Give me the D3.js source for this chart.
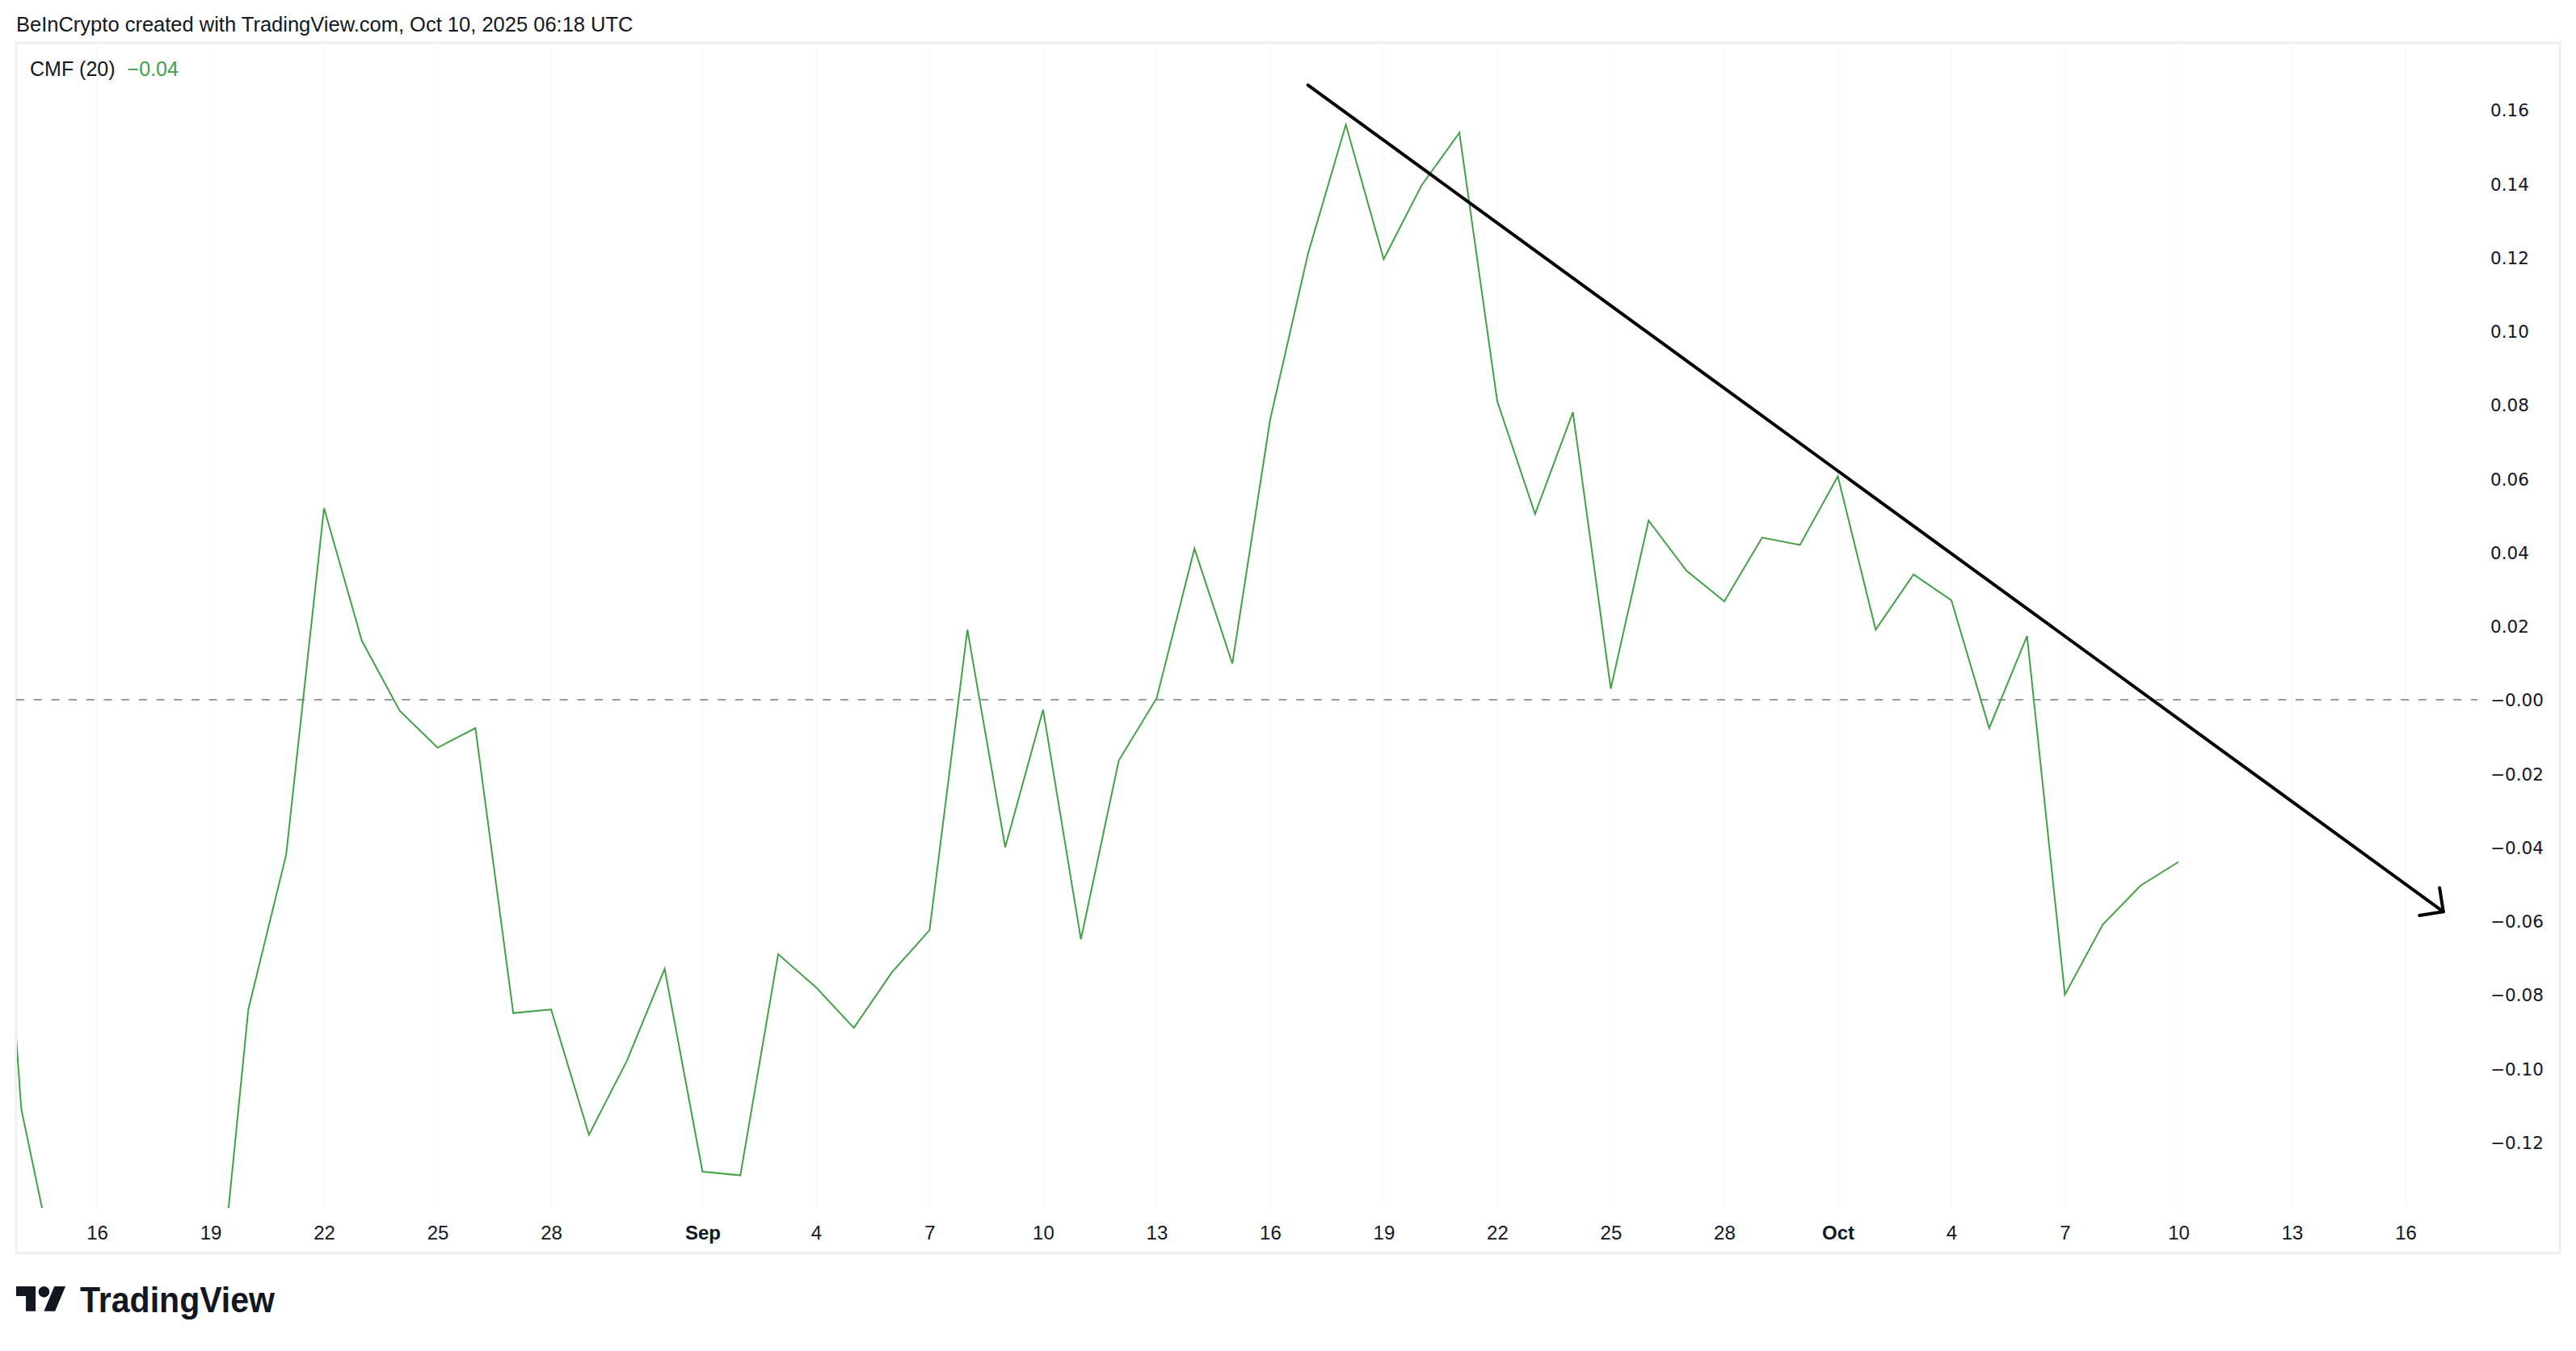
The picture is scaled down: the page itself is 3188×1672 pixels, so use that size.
<!DOCTYPE html>
<html>
<head>
<meta charset="utf-8">
<script src="https://cdn.jsdelivr.net/npm/d3@7"></script>
<style>
  html, body { margin: 0; padding: 0; background: #ffffff; }
  svg { display: block; }
</style>
</head>
<body>
<svg id="chart" width="3188" height="1672"></svg>
<script>
// ---------------- DATA ----------------
const dates = [
  "2025-08-13","2025-08-14","2025-08-15","2025-08-16","2025-08-17","2025-08-18","2025-08-19","2025-08-20",
  "2025-08-21","2025-08-22","2025-08-23","2025-08-24","2025-08-25","2025-08-26","2025-08-27","2025-08-28",
  "2025-08-29","2025-08-30","2025-08-31","2025-09-01","2025-09-02","2025-09-03","2025-09-04","2025-09-05",
  "2025-09-06","2025-09-07","2025-09-08","2025-09-09","2025-09-10","2025-09-11","2025-09-12","2025-09-13",
  "2025-09-14","2025-09-15","2025-09-16","2025-09-17","2025-09-18","2025-09-19","2025-09-20","2025-09-21",
  "2025-09-22","2025-09-23","2025-09-24","2025-09-25","2025-09-26","2025-09-27","2025-09-28","2025-09-29",
  "2025-09-30","2025-10-01","2025-10-02","2025-10-03","2025-10-04","2025-10-05","2025-10-06","2025-10-07",
  "2025-10-08","2025-10-09","2025-10-10"
];
const cmfValues = [
   0.033, -0.111, -0.160, -0.172, -0.181, -0.190, -0.187, -0.084,
  -0.042,  0.052,  0.016, -0.003, -0.013, -0.0077, -0.085, -0.084,
  -0.118, -0.098, -0.073, -0.128, -0.129, -0.069, -0.078, -0.089,
  -0.074, -0.0625, 0.019, -0.040, -0.0027, -0.065, -0.0165, 0.0004,
   0.041,  0.0098, 0.076,  0.121,  0.156,  0.1195, 0.1395, 0.1538,
   0.081,  0.0504, 0.078,  0.003,  0.0486, 0.035,  0.0267, 0.044,
   0.042,  0.0606, 0.019,  0.034,  0.027, -0.0077, 0.0173, -0.080,
  -0.061, -0.0504, -0.044
];
const yTickValues = [0.16, 0.14, 0.12, 0.10, 0.08, 0.06, 0.04, 0.02, 0.00, -0.02, -0.04, -0.06, -0.08, -0.10, -0.12];
const xTickDates = ["2025-08-16","2025-08-19","2025-08-22","2025-08-25","2025-08-28","2025-09-01","2025-09-04",
  "2025-09-07","2025-09-10","2025-09-13","2025-09-16","2025-09-19","2025-09-22","2025-09-25","2025-09-28",
  "2025-10-01","2025-10-04","2025-10-07","2025-10-10","2025-10-13","2025-10-16"];
const xTickLabels = ["16","19","22","25","28","Sep","4","7","10","13","16","19","22","25","28","Oct","4","7","10","13","16"];
const trendDates = ["2025-09-17", "2025-10-17"];
const trendValues = [0.1667, -0.0575];
const headerText = "BeInCrypto created with TradingView.com, Oct 10, 2025 06:18 UTC";
const legendName = "CMF (20)";
const legendValue = "\u22120.04";

// ---------------- LAYOUT ----------------
const frame = { left: 20, top: 53, right: 3168, bottom: 1551 };
const plot = { left: 20, top: 53, right: 3068, bottom: 1495 };
const parse = d3.utcParse("%Y-%m-%d");

const x = d3.scaleUtc()
  .domain([parse("2025-08-16"), parse("2025-10-16")])
  .range([120, 2977]);
const y = d3.scaleLinear()
  .domain([-0.12, 0.16])
  .range([1413.5, 136]);

const svg = d3.select("#chart");

// header
svg.append("text")
  .attr("x", 20).attr("y", 39)
  .attr("font-family", "Liberation Sans, Arial, sans-serif")
  .attr("font-size", 25.5).attr("fill", "#131722")
  .text(headerText);

// frame
svg.append("rect")
  .attr("x", frame.left).attr("y", frame.top)
  .attr("width", frame.right - frame.left).attr("height", frame.bottom - frame.top)
  .attr("fill", "none").attr("stroke", "#efefef").attr("stroke-width", 3);

// faint vertical grid lines
svg.append("g").selectAll("line")
  .data(xTickDates.map(parse))
  .join("line")
  .attr("x1", d => x(d)).attr("x2", d => x(d))
  .attr("y1", plot.top + 2).attr("y2", plot.bottom)
  .attr("stroke", "#f8f8fa").attr("stroke-width", 1.5);

// clip
svg.append("defs").append("clipPath").attr("id", "plotClip")
  .append("rect")
  .attr("x", plot.left + 1).attr("y", plot.top + 1)
  .attr("width", plot.right - plot.left).attr("height", plot.bottom - plot.top - 1);

// zero dashed line
svg.append("line")
  .attr("x1", plot.left).attr("x2", 3066)
  .attr("y1", y(0)).attr("y2", y(0))
  .attr("stroke", "#787b86").attr("stroke-width", 1.6)
  .attr("stroke-dasharray", "10,11.7");

// CMF line
const series = dates.map((d, i) => ({ date: parse(d), value: cmfValues[i] }));
svg.append("path")
  .datum(series)
  .attr("clip-path", "url(#plotClip)")
  .attr("fill", "none")
  .attr("stroke", "#43a047")
  .attr("stroke-width", 2)
  .attr("stroke-linejoin", "miter")
  .attr("d", d3.line().x(d => x(d.date)).y(d => y(d.value)));

// trend arrow
const p0 = [x(parse(trendDates[0])), y(trendValues[0])];
const p1 = [x(parse(trendDates[1])), y(trendValues[1])];
const ang = Math.atan2(p0[1] - p1[1], p0[0] - p1[0]);
const armLen = 30, spread = Math.PI / 4;
const a1 = [p1[0] + armLen * Math.cos(ang + spread), p1[1] + armLen * Math.sin(ang + spread)];
const a2 = [p1[0] + armLen * Math.cos(ang - spread), p1[1] + armLen * Math.sin(ang - spread)];
const tg = svg.append("g")
  .attr("fill", "none").attr("stroke", "#000000")
  .attr("stroke-width", 4).attr("stroke-linecap", "round").attr("stroke-linejoin", "round");
tg.append("line").attr("x1", p0[0]).attr("y1", p0[1]).attr("x2", p1[0]).attr("y2", p1[1]);
tg.append("path").attr("d", `M${a1[0]},${a1[1]}L${p1[0]},${p1[1]}L${a2[0]},${a2[1]}`);

// legend
const lg = svg.append("text")
  .attr("x", 37).attr("y", 94)
  .attr("font-family", "Liberation Sans, Arial, sans-serif")
  .attr("font-size", 25);
lg.append("tspan").attr("fill", "#131722").text(legendName);
lg.append("tspan").attr("fill", "#43a047").attr("dx", 15).text(legendValue);

// y axis (price scale)
const yAxis = d3.axisRight(y)
  .tickValues(yTickValues)
  .tickSize(0)
  .tickPadding(0)
  .tickFormat(v => (v <= 0 ? "\u2212" : "") + Math.abs(v).toFixed(2));
const yg = svg.append("g")
  .attr("transform", "translate(3082,0)")
  .call(yAxis);
yg.select(".domain").remove();
yg.selectAll("text")
  .attr("font-family", "DejaVu Sans, Verdana, sans-serif")
  .attr("font-size", 21.5)
  .attr("fill", "#131722")
  .attr("dy", "0.36em")
  .attr("text-anchor", "start")
  .attr("x", 0);

// x axis (time scale)
const xAxis = d3.axisBottom(x)
  .tickValues(xTickDates.map(parse))
  .tickSize(0)
  .tickPadding(0)
  .tickFormat((d, i) => xTickLabels[i]);
const xg = svg.append("g")
  .attr("transform", `translate(0,${plot.bottom})`)
  .call(xAxis);
xg.select(".domain").remove();
xg.selectAll("text")
  .attr("font-family", "Liberation Sans, Arial, sans-serif")
  .attr("font-size", 24)
  .attr("fill", "#131722")
  .attr("y", 39)
  .attr("dy", 0)
  .attr("font-weight", (d, i) => isNaN(+xTickLabels[i]) ? "bold" : "normal");

// TradingView logo
const logo = svg.append("g").attr("transform", "translate(20,1585) scale(1.72)").attr("fill", "#131722");
logo.append("path").attr("d", "M14 22H7V11H0V4h14v18zM28 22h-8l7.5-18h8L28 22z");
logo.append("circle").attr("cx", 20).attr("cy", 8).attr("r", 4);
svg.append("text")
  .attr("x", 99).attr("y", 1624)
  .attr("font-family", "Liberation Sans, Arial, sans-serif")
  .attr("font-weight", "bold")
  .attr("font-size", 44)
  .attr("textLength", 241)
  .attr("lengthAdjust", "spacingAndGlyphs")
  .attr("fill", "#131722")
  .text("TradingView");
</script>
</body>
</html>
